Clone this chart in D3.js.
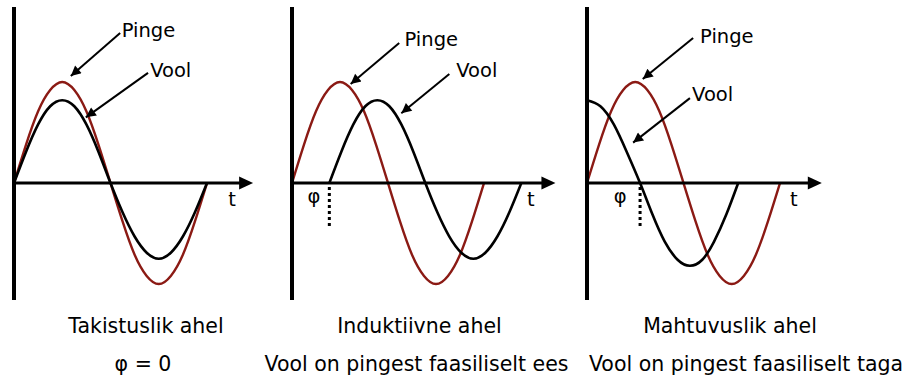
<!DOCTYPE html>
<html><head><meta charset="utf-8">
<script src="https://cdn.jsdelivr.net/npm/d3@7/dist/d3.min.js"></script>
<style>
body{margin:0;background:#fff}
svg{display:block}
text{font-family:"DejaVu Sans",sans-serif;font-size:19.5px;fill:#000}
text.cap{font-size:20.5px}
</style>
</head><body>
<script>
// ---------- DATA ----------
const titles = ["Takistuslik ahel", "Induktiivne ahel", "Mahtuvuslik ahel"];
const subtitles = ["φ = 0", "Vool on pingest faasiliselt ees", "Vool on pingest faasiliselt taga"];
const seriesNames = ["Pinge", "Vool"];
const axisLabel = "t";
const phiLabel = "φ";

// phase angle (degrees) and relative amplitude
const voltageT = [0,22.5,45,67.5,90,112.5,135,157.5,180,202.5,225,247.5,270,292.5,315,337.5,360];
const voltageV = [0,38,71,92,100,92,71,38,0,-38,-71,-92,-100,-92,-71,-38,0];

const current1T = [0,22.5,45,67.5,90,112.5,135,157.5,180,202.5,225,247.5,270,292.5,315,337.5,360];
const current1V = [0,31,58,76,82,76,58,31,0,-29,-53,-69,-75,-69,-53,-29,0];

const current2T = [70,92.5,115,137.5,160,182.5,205,227.5,250,272.5,295,317.5,340,362.5,385,407.5,430];
const current2V = [0,31,58,76,82,76,58,31,0,-29,-53,-69,-75,-69,-53,-29,0];

const current3T = [0,25,50,74,99,122,145,169,192,215,237,260,282];
const current3V = [82,76,58,31,0,-31,-58,-76,-82,-76,-58,-31,0];

const phiT = [null, 70, 99];

// ---------- LAYOUT ----------
const W = 910, H = 378;
const voltColor = "#8b1a14";
const panelX0 = [14, 292, 587];
const panelW = [193, 192, 193];
const axisEndT = [446, 494, 438];
const yTop = 82, yBot = 284;
// annotation anchors in data units [t, v]
const ann = [
  {pingeText:[201,144.6], pingeFrom:[198,148.5], pingeTo:[106,106],
   voolText:[254,105], voolFrom:[250,109], voolTo:[134,65], tText:[407,-23]},
  {pingeText:[211,135.6], pingeFrom:[201,138.6], pingeTo:[110,98],
   voolText:[308,105], voolFrom:[295,108], voolTo:[205,69], tText:[448,-23], phiText:[41,-20]},
  {pingeText:[211,138.6], pingeFrom:[198,143.6], pingeTo:[104,103],
   voolText:[196,81], voolFrom:[192,84], voolTo:[86,40], tText:[386,-23], phiText:[62,-20]}
];
const captionX = [146, 419.5, 730];
const subCaptionX = [143, 416.5, 746];

const currents = [[current1T,current1V],[current2T,current2V],[current3T,current3V]];

const svg = d3.select("body").append("svg").attr("width", W).attr("height", H);
const defs = svg.append("defs");
defs.append("marker").attr("id","ah").attr("viewBox","0 0 10 10")
  .attr("refX",10).attr("refY",5).attr("markerWidth",12).attr("markerHeight",10)
  .attr("markerUnits","userSpaceOnUse").attr("orient","auto")
  .append("path").attr("d","M0,0 L10,5 L0,10 Z").attr("fill","#000");

const y = d3.scaleLinear().domain([-100,100]).range([yBot, yTop]);

titles.forEach((title, i) => {
  const x = d3.scaleLinear().domain([0,360]).range([panelX0[i], panelX0[i] + panelW[i]]);
  const g = svg.append("g");
  const line = d3.line().x(d => x(d[0])).y(d => y(d[1])).curve(d3.curveNatural);

  // curves
  g.append("path").datum(voltageT.map((t,k)=>[t, voltageV[k]]))
    .attr("d", line).attr("fill","none").attr("stroke",voltColor).attr("stroke-width",2.4);
  const [cT, cV] = currents[i];
  g.append("path").datum(cT.map((t,k)=>[t, cV[k]]))
    .attr("d", line).attr("fill","none").attr("stroke","#000").attr("stroke-width",2.6);

  // axes
  const yv = y.invert(7), yb = y.invert(300);
  g.append("line").attr("x1", x(0)).attr("x2", x(0)).attr("y1", y(yv)).attr("y2", y(yb))
    .attr("stroke","#000").attr("stroke-width",4);
  const tip = x(axisEndT[i]);
  g.append("line").attr("x1", x(0)).attr("x2", tip - 12).attr("y1", y(0)).attr("y2", y(0))
    .attr("stroke","#000").attr("stroke-width",3);
  g.append("path").attr("d", `M${tip},${y(0)} L${tip-14},${y(0)-6.5} L${tip-14},${y(0)+6.5} Z`).attr("fill","#000");

  // phase marker
  if (phiT[i] !== null) {
    g.append("line").attr("x1", x(phiT[i])).attr("x2", x(phiT[i]))
      .attr("y1", y(0)+4).attr("y2", y(0)+45)
      .attr("stroke","#000").attr("stroke-width",3).attr("stroke-dasharray","3,3");
    g.append("text").attr("x", x(ann[i].phiText[0])).attr("y", y(ann[i].phiText[1]))
      .attr("text-anchor","middle").text(phiLabel);
  }

  const a = ann[i];
  g.append("text").attr("x", x(a.tText[0])).attr("y", y(a.tText[1])).attr("text-anchor","middle").text(axisLabel);

  // labels and arrows
  g.append("text").attr("x", x(a.pingeText[0])).attr("y", y(a.pingeText[1])).text(seriesNames[0]);
  g.append("line").attr("x1", x(a.pingeFrom[0])).attr("y1", y(a.pingeFrom[1]))
    .attr("x2", x(a.pingeTo[0])).attr("y2", y(a.pingeTo[1]))
    .attr("stroke","#000").attr("stroke-width",2).attr("marker-end","url(#ah)");
  g.append("text").attr("x", x(a.voolText[0])).attr("y", y(a.voolText[1])).text(seriesNames[1]);
  g.append("line").attr("x1", x(a.voolFrom[0])).attr("y1", y(a.voolFrom[1]))
    .attr("x2", x(a.voolTo[0])).attr("y2", y(a.voolTo[1]))
    .attr("stroke","#000").attr("stroke-width",2).attr("marker-end","url(#ah)");

  // captions
  svg.append("text").attr("class","cap").attr("x", captionX[i]).attr("y", 333).attr("text-anchor","middle").text(title);
  svg.append("text").attr("class","cap").attr("x", subCaptionX[i]).attr("y", 371).attr("text-anchor","middle").text(subtitles[i]);
});
</script>
</body></html>
